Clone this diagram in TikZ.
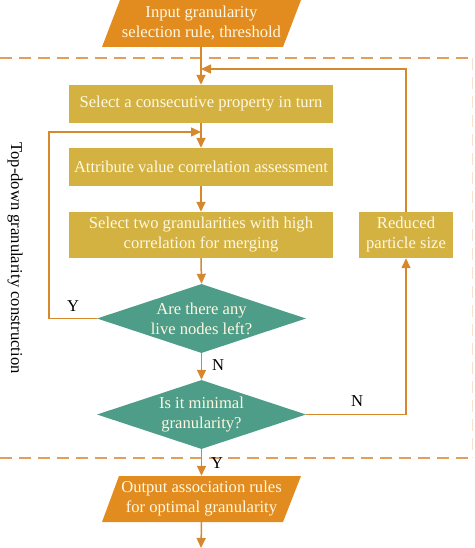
\documentclass[tikz,border=0pt]{standalone}
\usepackage{fontspec}
\setmainfont{Liberation Serif}
\usetikzlibrary{arrows.meta,shapes.geometric}
\definecolor{pgorange}{RGB}{226,140,32}
\definecolor{boxgold}{RGB}{212,178,66}
\definecolor{dteal}{RGB}{78,157,136}
\definecolor{lineor}{RGB}{214,136,44}
\definecolor{dashor}{RGB}{222,160,90}
\definecolor{txtcream}{RGB}{255,248,226}
\begin{document}
\begin{tikzpicture}[x=1pt,y=-1pt,
  every node/.style={font=\fontsize{16.6}{20}\selectfont},
  procbox/.style={fill=boxgold,text=txtcream,inner sep=0pt,align=center},
  decbox/.style={shape=diamond,fill=dteal,inner sep=0pt,minimum width=209pt,minimum height=69pt},
  dectext/.style={text=txtcream,align=center,inner sep=0pt},
  pgtext/.style={text=txtcream,align=center,inner sep=0pt,minimum height=47pt,minimum width=180pt},
  conn/.style={draw=lineor,line width=1.5pt,-{Triangle[length=10pt,width=9pt]}},
  sep/.style={draw=dashor,line width=1.5pt,dash pattern=on 12pt off 7pt},
  lbl/.style={text=black,inner sep=0pt}]
\useasboundingbox (0,0) rectangle (474,548);
% separators
\draw[sep] (0,58) -- (474,58);
\draw[sep] (0,458) -- (474,458);
\draw[draw=dashor!30,line width=1pt,dash pattern=on 12pt off 7pt] (472,58) -- (472,458);
% input parallelogram
\fill[pgorange] (102,47) -- (283,47) -- (301,0) -- (120,0) -- cycle;
\node[pgtext] (in) at (201.5,23.5) {Input granularity\\selection rule, threshold};
% boxes
\node[procbox,minimum width=264pt,minimum height=38pt] (b1) at (201,104) {Select a consecutive property in turn};
\node[procbox,minimum width=264pt,minimum height=38pt] (b2) at (201,167) {Attribute value correlation assessment};
\node[procbox,minimum width=264pt,minimum height=46pt] (b3) at (201,235) {Select two granularities with high\\correlation for merging};
\node[procbox,minimum width=94pt,minimum height=46pt] (rb) at (406,235) {Reduced\\particle size};
% diamonds
\node[decbox] (d1) at (201.5,318.5) {};
\node[dectext] (d1t) at (d1) {Are there any\\live nodes left?};
\node[decbox] (d2) at (201.5,414.5) {};
\node[dectext] (d2t) at (d2) {Is it minimal\\granularity?};
% output parallelogram
\fill[pgorange] (102,522) -- (283,522) -- (301,476) -- (119,476) -- cycle;
\node[pgtext,minimum height=46pt] (out) at (201.5,499) {Output association rules\\for optimal granularity};
% coordinates
\coordinate (j0) at (201,69);
\coordinate (j1) at (201,132);
\coordinate (lft) at (49,318.5);
\coordinate (rgt) at (406,414.5);
\coordinate (fin) at (201,548);
% connectors
\draw[conn] (in.south -| b1.north) -- (b1.north);
\draw[conn] (b1.south) -- (b2.north);
\draw[conn] (b2.south) -- (b3.north);
\draw[conn] (b3.south) -- (d1.north);
\draw[conn] (d1.west) -- (lft) |- (j1);
\draw[conn] (d1.south) -- (d2.north);
\draw[conn] (d2.east) -- (rgt) -- (rb.south);
\draw[conn] (rb.north) |- (j0);
\draw[conn] (d2.south) -- (out.north -| d2.south);
\draw[conn] (out.south -| d2.south) -- (fin);
% labels
\node[lbl] (ly1) at (73,306) {Y};
\node[lbl] (ln1) at (218,365) {N};
\node[lbl] (ln2) at (357,401) {N};
\node[lbl] (ly2) at (217,463) {Y};
\node[lbl,rotate=-90] (side) at (15,258) {Top-down granularity construction};
\end{tikzpicture}
\end{document}
